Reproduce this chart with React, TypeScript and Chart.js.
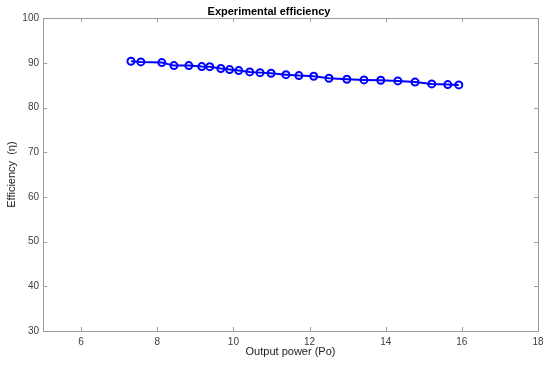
import React, { useEffect, useRef } from "react";
import { Chart, registerables } from "chart.js";

Chart.register(...registerables);

const outputPower = [
  7.31, 7.57, 8.12, 8.44, 8.83, 9.17, 9.38, 9.67, 9.9, 10.14, 10.43, 10.7, 10.99,
  11.38, 11.72, 12.11, 12.51, 12.98, 13.43, 13.87, 14.32, 14.77, 15.21, 15.63, 15.92,
];
const efficiency = [
  90.37, 90.22, 90.06, 89.39, 89.4, 89.17, 89.15, 88.75, 88.5, 88.27, 87.98, 87.82,
  87.69, 87.37, 87.15, 87.0, 86.57, 86.34, 86.19, 86.12, 85.96, 85.7, 85.29, 85.14, 85.07,
];
const xTicks = [6, 8, 10, 12, 14, 16, 18];
const yTicks = [30, 40, 50, 60, 70, 80, 90, 100];

const boxPlugin = {
  id: "boxTicks",
  afterDraw(chart: any) {
    const { ctx, chartArea } = chart;
    const { left, right, top, bottom } = chartArea;
    const xs = chart.scales.x;
    const ys = chart.scales.y;
    ctx.save();
    ctx.strokeStyle = "#9a9a9a";
    ctx.lineWidth = 1;
    ctx.beginPath();
    ctx.rect(Math.round(left) + 0.5, Math.round(top) + 0.5, Math.round(right - left), Math.round(bottom - top));
    ctx.stroke();
    const len = 4;
    ctx.beginPath();
    for (const v of xTicks) {
      const px = Math.round(xs.getPixelForValue(v)) + 0.5;
      ctx.moveTo(px, bottom);
      ctx.lineTo(px, bottom - len);
      ctx.moveTo(px, top);
      ctx.lineTo(px, top + len);
    }
    for (const v of yTicks) {
      const py = Math.round(ys.getPixelForValue(v)) + 0.5;
      ctx.moveTo(left, py);
      ctx.lineTo(left + len, py);
      ctx.moveTo(right, py);
      ctx.lineTo(right - len, py);
    }
    ctx.stroke();
    ctx.restore();
  },
};

export default function App() {
  const ref = useRef<HTMLCanvasElement | null>(null);
  useEffect(() => {
    if (!ref.current) return;
    const chart = new Chart(ref.current, {
      type: "line",
      data: {
        datasets: [
          {
            data: outputPower.map((x, i) => ({ x, y: efficiency[i] })),
            borderColor: "#0000ff",
            borderWidth: 2,
            pointRadius: 3.5,
            pointBorderWidth: 2,
            pointBorderColor: "#0000ff",
            pointBackgroundColor: "rgba(255,255,255,0)",
            tension: 0,
            fill: false,
          },
        ],
      },
      options: {
        responsive: false,
        animation: false,
        layout: { padding: { left: 0, right: 12, top: 0, bottom: 0 } },
        plugins: {
          legend: { display: false },
          tooltip: { enabled: false },
          title: {
            display: true,
            text: "Experimental efficiency",
            color: "#000",
            font: { family: "'Liberation Sans', Arial, sans-serif", size: 11, weight: "bold" },
            padding: { top: 5, bottom: 0 },
          },
        },
        scales: {
          x: {
            type: "linear",
            min: 5,
            max: 18,
            afterBuildTicks: (s: any) => {
              s.ticks = xTicks.map((v) => ({ value: v }));
            },
            afterFit: (s: any) => {
              s.height = 34;
            },
            grid: { display: false, drawTicks: false },
            border: { display: true, color: "#9a9a9a" },
            ticks: {
              color: "#404040",
              padding: 5,
              maxRotation: 0,
              font: { family: "'Liberation Sans', Arial, sans-serif", size: 10 },
            },
            title: {
              display: true,
              text: "Output power (Po)",
              color: "#202020",
              font: { family: "'Liberation Sans', Arial, sans-serif", size: 11 },
              padding: { top: 0, bottom: 6 },
            },
          },
          y: {
            type: "linear",
            min: 30,
            max: 100,
            afterBuildTicks: (s: any) => {
              s.ticks = yTicks.map((v) => ({ value: v }));
            },
            afterFit: (s: any) => {
              s.width = 43;
            },
            grid: { display: false, drawTicks: false },
            border: { display: true, color: "#9a9a9a" },
            ticks: {
              color: "#404040",
              padding: 4,
              font: { family: "'Liberation Sans', Arial, sans-serif", size: 10 },
            },
            title: {
              display: true,
              text: "Efficiency  (η)",
              color: "#202020",
              font: { family: "'Liberation Sans', Arial, sans-serif", size: 11 },
              padding: { top: 5, bottom: 0 },
            },
          },
        },
      },
      plugins: [boxPlugin],
    });
    return () => chart.destroy();
  }, []);
  return (
    <div style={{ position: "fixed", left: 0, top: 0, width: 550, height: 365, background: "#fff" }}>
      <canvas ref={ref} width={550} height={365} />
    </div>
  );
}
